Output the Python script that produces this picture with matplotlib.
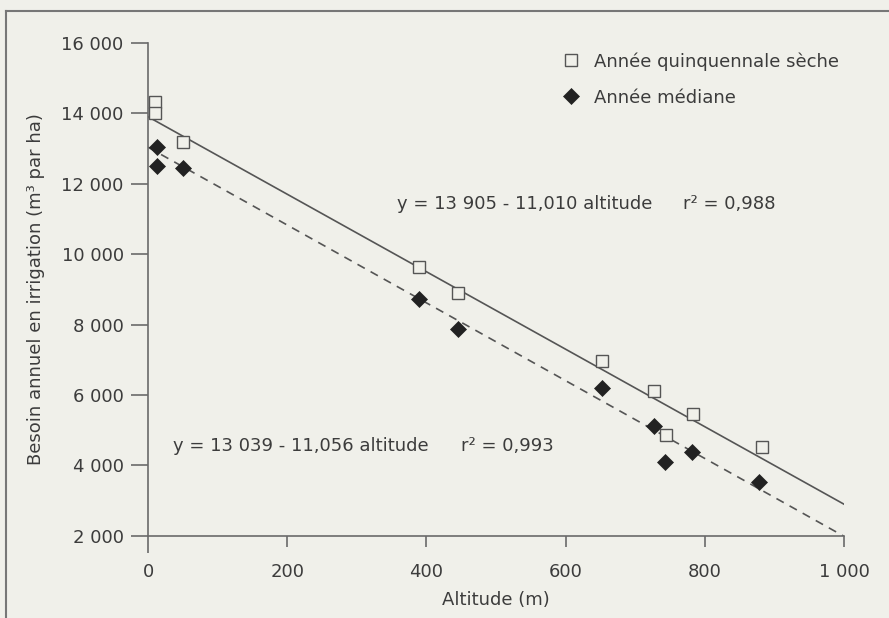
import matplotlib
matplotlib.use("Agg")
import matplotlib.pyplot as plt
from matplotlib.lines import Line2D

# annee quinquennale seche (carres)
alt_sec = [10, 10, 50, 390, 445, 652, 727, 744, 783, 882]
besoin_sec = [14330, 14020, 13200, 9630, 8890, 6970, 6120, 4860, 5460, 4530]

# annee mediane (losanges)
alt_med = [13, 13, 50, 390, 446, 652, 727, 743, 782, 878]
besoin_med = [13050, 12510, 12460, 8730, 7870, 6210, 5130, 4090, 4390, 3540]

# droites de regression
reg_sec = (13905, -11.010)
reg_med = (13039, -11.056)
reg_x = [0, 1000]

xticks = [0, 200, 400, 600, 800, 1000]
xlabels = ["0", "200", "400", "600", "800", "1 000"]
yticks = [2000, 4000, 6000, 8000, 10000, 12000, 14000, 16000]
ylabels = ["2 000", "4 000", "6 000", "8 000", "10 000", "12 000", "14 000", "16 000"]

bg = "#f0f0ea"
ink = "#3c3c3c"
axc = "#6a6a6a"
fs = 13

fig = plt.figure(figsize=(8.89, 6.18), dpi=100, facecolor=bg)
ax = fig.add_axes([148/889, 82.3/618, (844-148)/889, (535.7-43)/618])
ax.set_facecolor(bg)

ax.plot(reg_x, [reg_sec[0] + reg_sec[1]*x for x in reg_x], color="#555555", lw=1.2, ls="-", zorder=2)
ax.plot(reg_x, [reg_med[0] + reg_med[1]*x for x in reg_x], color="#555555", lw=1.2,
        ls=(0, (5, 4)), zorder=2)

ax.plot(alt_sec, besoin_sec, ls="none", marker="s", ms=8.5, mfc=bg, mec="#555555",
        mew=1.0, label="Année quinquennale sèche", zorder=3, clip_on=False)
ax.plot(alt_med, besoin_med, ls="none", marker="D", ms=8, mfc="#222222", mec="#222222",
        mew=0.5, label="Année médiane", zorder=4, clip_on=False)

ax.set_xlim(0, 1000)
ax.set_ylim(2000, 16000)
ax.set_xticks(xticks)
ax.set_xticklabels(xlabels)
ax.set_yticks(yticks)
ax.set_yticklabels(ylabels)

for s in ["top", "right"]:
    ax.spines[s].set_visible(False)
for s in ["left", "bottom"]:
    ax.spines[s].set_color(axc)
    ax.spines[s].set_linewidth(1.2)

ax.tick_params(axis="y", direction="out", length=12.5, width=1.2, color=axc,
               labelsize=fs, labelcolor=ink, pad=5)
ax.tick_params(axis="x", direction="out", length=8, width=1.2, color=axc,
               labelsize=fs, labelcolor=ink, pad=12)
ax.xaxis.get_major_ticks()[0].tick1line.set_markersize(12.5)

ax.set_xlabel("Altitude (m)", fontsize=fs, color=ink, labelpad=7)
ax.set_ylabel("Besoin annuel en irrigation (m³ par ha)", fontsize=fs, color=ink, labelpad=12)

ax.text(358, 11430, "y = 13 905 - 11,010 altitude", fontsize=fs, color=ink, va="center")
ax.text(769, 11430, "r² = 0,988", fontsize=fs, color=ink, va="center")
ax.text(36, 4560, "y = 13 039 - 11,056 altitude", fontsize=fs, color=ink, va="center")
ax.text(449, 4560, "r² = 0,993", fontsize=fs, color=ink, va="center")

leg = ax.legend(loc="upper left", bbox_to_anchor=(0.582, 1.0), frameon=False, fontsize=fs,
                handlelength=1.0, handletextpad=0.75, labelspacing=1.0, borderaxespad=0.1)
for t in leg.get_texts():
    t.set_color(ink)

# cadre de la figure
fig.add_artist(Line2D([6/889, 1], [1 - 11/618, 1 - 11/618], color="#777777", lw=1.5))
fig.add_artist(Line2D([6/889, 6/889], [0, 1 - 11/618], color="#777777", lw=1.5))

fig.savefig("out.png", dpi=100, facecolor=bg)
